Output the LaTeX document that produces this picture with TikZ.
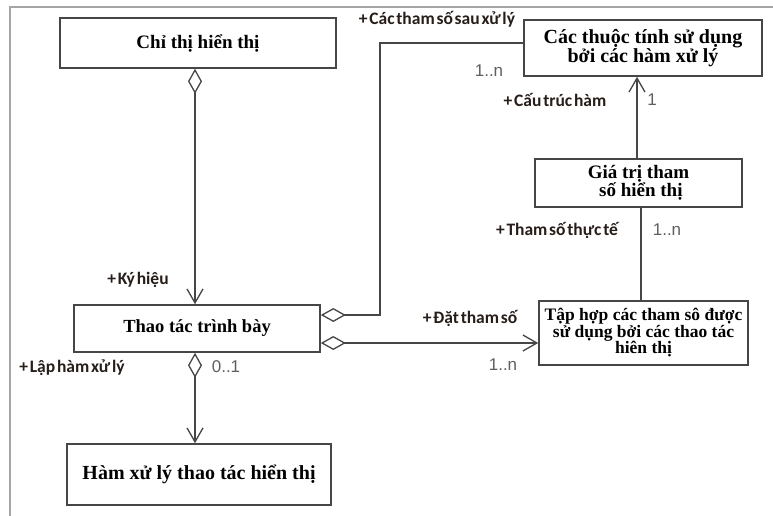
\documentclass[tikz,border=0pt]{standalone}
\usepackage{fontspec}
\setmainfont{Liberation Serif}
\newfontfamily\lblfont[WordSpace=0.45]{Carlito}
\newfontfamily\multfont{Liberation Sans}
\usetikzlibrary{arrows.meta}
\definecolor{linec}{RGB}{70,70,70}
\definecolor{framec}{RGB}{165,165,165}
\definecolor{lblc}{RGB}{40,30,25}
\definecolor{multc}{RGB}{95,95,95}
\tikzset{
  mydia/.tip={Diamond[fill=white,length=25pt,width=14pt]},
  mybarb/.tip={Straight Barb[length=14pt,width=16pt]},
  box/.style={draw=linec, line width=1.6pt, fill=white, inner sep=0pt, align=center,
    font=\bfseries\fontsize{19}{18}\selectfont},
  conn/.style={draw=linec, line width=1.3pt},
  lbl/.style={inner sep=0pt, text=lblc, font=\lblfont\bfseries\fontsize{17.5}{20}\selectfont},
  mult/.style={inner sep=0pt, text=multc, font=\multfont\fontsize{17}{19}\selectfont}
}
\begin{document}
\begin{tikzpicture}[x=1pt,y=-1pt]
\useasboundingbox (0,0) rectangle (773,516);
\fill[white] (0,0) rectangle (773,516);
\draw[framec, line width=1.5pt] (10,516) -- (10,7) -- (773,7);

% boxes
\node[box, minimum width=276pt, minimum height=50pt] (cth) at (198,43) {Chỉ thị hiển thị};
\node[box, font=\bfseries\fontsize{20}{18}\selectfont, minimum width=238pt, minimum height=56pt] (ct) at (643,48) {Các thuộc tính sử dụng\\bởi các hàm xử lý};
\node[box, minimum width=207pt, minimum height=48pt] (gt) at (638.5,183) {Giá trị tham\\\ số hiển thị};
\node[box, font=\bfseries\fontsize{17.5}{16.5}\selectfont, minimum width=209pt, minimum height=64pt] (th) at (643.5,333) {Tập hợp các tham sô được\\sử dụng bởi các thao tác\\hiên thị};
\node[box, font=\bfseries\fontsize{18.5}{18}\selectfont, minimum width=246pt, minimum height=47pt] (tt) at (197,328.5) {Thao tác trình bày};
\node[box, font=\bfseries\fontsize{20}{18}\selectfont, minimum width=264pt, minimum height=61pt] (hm) at (199,474.5) {Hàm xử lý thao tác hiển thị};

% helper coordinates
\coordinate (ax) at (195,0);
\coordinate (yA) at (0,315);
\coordinate (yB) at (0,343);
\coordinate (c1) at (380,315);
\coordinate (c2) at (380,43);
\coordinate (xg) at (637,0);
\coordinate (xh) at (641,0);

% connectors
\draw[conn, {mydia}-{mybarb}] (cth.south -| ax) -- (tt.north -| ax);
\draw[conn, {mydia}-{mybarb}] (tt.south -| ax) -- (hm.north -| ax);
\draw[conn, {mydia}-] (tt.east |- yA) -- (c1) -- (c2) -- (ct.west |- c2);
\draw[conn, {mydia}-{mybarb}] (tt.east |- yB) -- (th.west |- yB);
\draw[conn, -{mybarb}] (gt.north -| xg) -- (ct.south -| xg);
\draw[conn] (gt.south -| xh) -- (th.north -| xh);

% labels
\node[lbl] (l1) at (437,19) {+ Các tham số sau xử lý};
\node[mult] (m1) at (489,71) {1..n};
\node[lbl] (l2) at (555,100) {+ Cấu trúc hàm};
\node[mult] (m2) at (652,100) {1};
\node[lbl] (l3) at (557,230) {+ Tham số thực tế};
\node[mult] (m3) at (667,230) {1..n};
\node[lbl] (l4) at (470,318) {+ Đặt tham số};
\node[mult] (m4) at (503,365) {1..n};
\node[lbl] (l5) at (138,280) {+ Ký hiệu};
\node[lbl] (l6) at (72,368) {+ Lập hàm xử lý};
\node[mult] (m5) at (226,367) {0..1};
\end{tikzpicture}
\end{document}
